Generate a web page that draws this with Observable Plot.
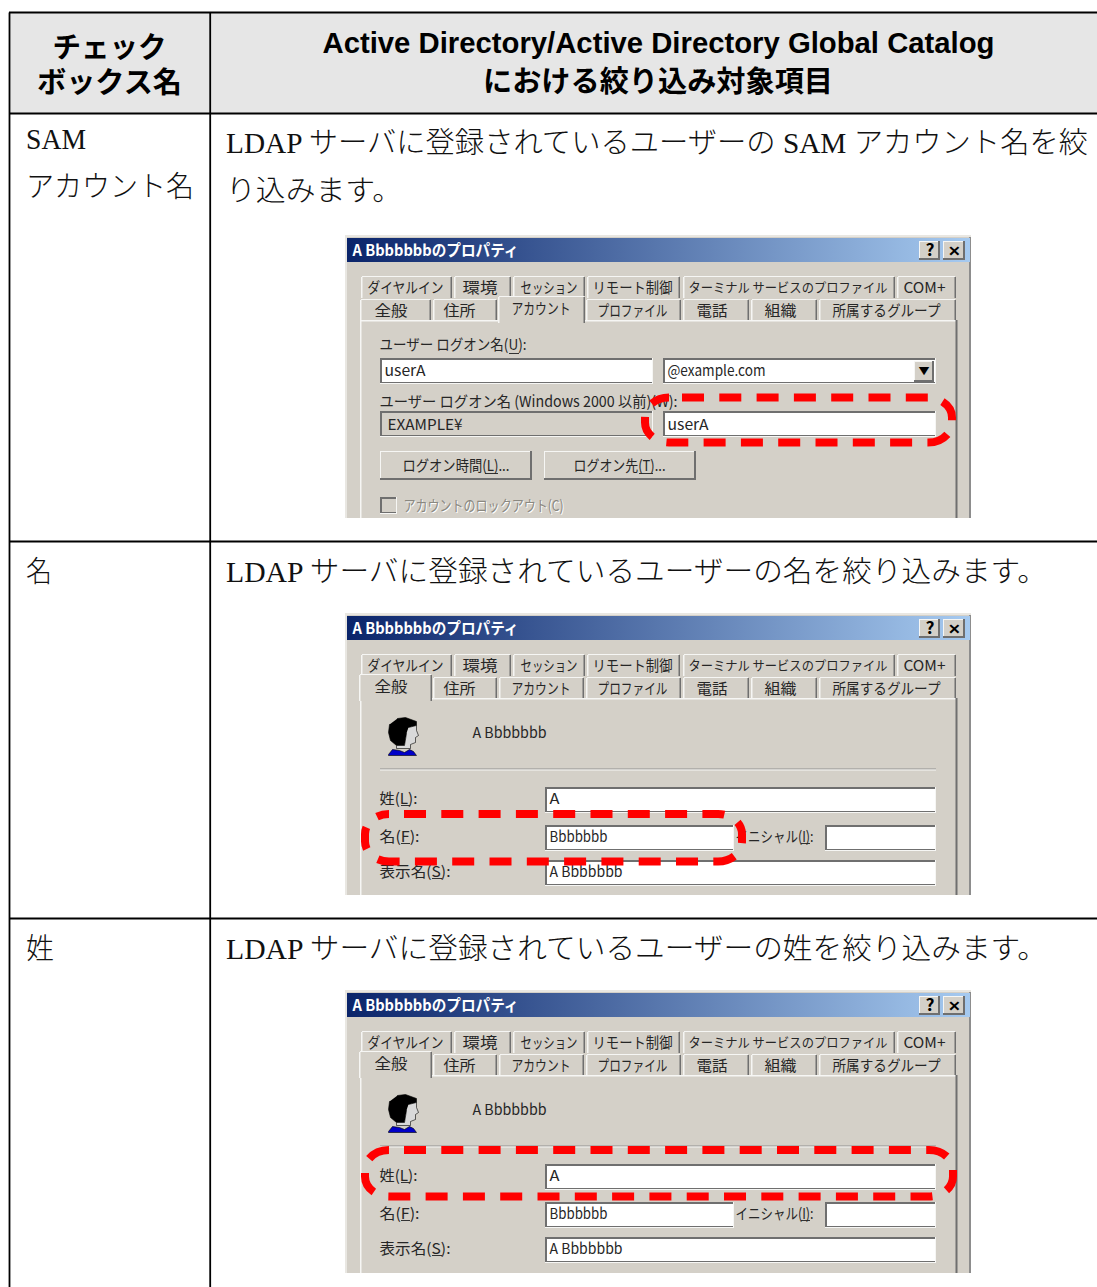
<!DOCTYPE html>
<html lang="ja">
<head>
<meta charset="utf-8">
<style>html,body{margin:0;padding:0;background:#fff}svg{display:block}</style>
<script src="https://cdn.jsdelivr.net/npm/d3@7"></script>
<script src="https://cdn.jsdelivr.net/npm/@observablehq/plot@0.6"></script>
</head>
<body>
<div id="chart"></div>
<script>
// ---------- content ----------
const headerFirst = ["チェック", "ボックス名"];
const headerSecond = ["Active Directory/Active Directory Global Catalog", "における絞り込み対象項目"];
const rowNames = [["SAM", "アカウント名"], ["名"], ["姓"]];
const rowTexts = [
  ["LDAP サーバに登録されているユーザーの SAM アカウント名を絞", "り込みます。"],
  ["LDAP サーバに登録されているユーザーの名を絞り込みます。"],
  ["LDAP サーバに登録されているユーザーの姓を絞り込みます。"]
];
const dialogTitle = "A Bbbbbbbのプロパティ";
const tabsBack = ["ダイヤルイン", "環境", "セッション", "リモート制御", "ターミナル サービスのプロファイル", "COM+"];
const tabsFront = ["全般", "住所", "アカウント", "プロファイル", "電話", "組織", "所属するグループ"];
const accountLabels = ["ユーザー ログオン名(U):", "ユーザー ログオン名 (Windows 2000 以前)(W):"];
const accountValues = ["userA", "@example.com", "EXAMPLE¥", "userA"];
const accountButtons = ["ログオン時間(L)...", "ログオン先(T)..."];
const lockoutLabel = "アカウントのロックアウト(C)";
const generalName = "A Bbbbbbb";
const generalLabels = ["姓(L):", "名(F):", "イニシャル(I):", "表示名(S):"];
const generalValues = ["A", "Bbbbbbb", "A Bbbbbbb"];

// ---------- layout ----------
const W = 1097, H = 1287;
const GRAY = "#d4d0c8", DARK = "#6f6f6f", LIGHT = "#f6f6f4", INK = "#262626";
const dialogTops = [235, 613, 990];
const dialogBottoms = [518, 895, 1273];
const activeTab = [2, 0, 0];
const highlight = [
  {x1: 645, x2: 952, y1: 397.5, y2: 442.5, off: 24.3},
  {x1: 365, x2: 742, y1: 814, y2: 861.5, off: 22.3},
  {x1: 365, x2: 953, y1: 1150, y2: 1196.5, off: 22.3}
];
const backEdges = [[361, 452], [454, 511], [513, 585], [587, 680], [683, 895], [897, 956]];
const frontEdges = [[360, 431], [433, 497], [499, 584], [586, 681], [683, 749], [751, 817], [819, 956]];
const backSpans = [[367, 76], [462, 35], [520, 57], [592, 80], [688, 199], [903, 42]];
const frontSpans = [[374, 33], [443, 32], [511, 59], [597, 70], [696, 31], [764, 32], [832, 108]];

const rects = [], texts = [], polys = [];
const R = (x1, y1, x2, y2, fill) => rects.push({x1, y1, x2, y2, fill});
const T = (t, x, y, len, size = 15, fill = INK, weight = 400) => texts.push({t, x, y: y + 0.7, len, size, fill, weight});
const U = (x1, x2, y) => R(x1, y, x2, y + 1, "#333");

function sunken(x1, y1, x2, y2, fill = "#fff") {
  R(x1, y1, x2, y2, LIGHT);
  R(x1, y1, x2 - 1, y2 - 1, DARK);
  R(x1 + 2, y1 + 2, x2 - 1, y2 - 2, fill);
}
function raised(x1, y1, x2, y2) {
  R(x1, y1, x2, y2, DARK);
  R(x1, y1, x2 - 2, y2 - 2, LIGHT);
  R(x1 + 1, y1 + 1, x2 - 2, y2 - 2, GRAY);
}
function tab(a, b, top, bottom) {
  R(a, top, b, bottom, GRAY);
  R(a + 1, top, b - 1, top + 1, LIGHT);
  R(a, top + 1, a + 1.5, bottom, LIGHT);
  R(b - 1.5, top + 1, b, bottom, DARK);
}

dialogTops.forEach((top, k) => {
  const d = y => top + y - 235;            // every dialog shares the same frame
  const bottom = dialogBottoms[k];
  R(345, top, 971, bottom, "#e9e7e2");
  R(347, top + 2, 969, bottom, GRAY);
  R(969, top + 2, 971, bottom, "#8d8d8d");
  R(347, d(238), 970, d(262), "url(#titleGrad)");
  T(dialogTitle, 352, d(249.5), 166, 16, "#fff", 700);
  raised(919, d(241), 940, d(260));
  raised(943, d(241), 965, d(260));
  T("?", 925, d(250), 9, 16, "#000", 700);
  T("✕", 947, d(250), 13, 14, "#000", 700);
  // back tab row, front tab row, page
  backEdges.forEach(([a, b]) => tab(a, b, d(276), d(298)));
  backSpans.forEach(([x, len], i) => T(tabsBack[i], x, d(287), len, i === 4 ? 13 : 15));
  frontEdges.forEach(([a, b]) => tab(a, b, d(299), d(322)));
  R(360, d(320), 957, bottom, GRAY);
  R(360, d(320), 957, d(321.5), LIGHT);
  R(360, d(320), 361.5, bottom, LIGHT);
  R(955.5, d(320), 957.5, bottom, DARK);
  const [a, b] = frontEdges[activeTab[k]];
  tab(a - 1, b + 1, d(296), d(323));
  frontSpans.forEach(([x, len], i) => T(tabsFront[i], x, d(i === activeTab[k] ? 308 : 310), len));
  if (k === 0) {
    T(accountLabels[0], 379, 344, 147); U(509, 519, 353);
    sunken(380, 358, 653, 384); T(accountValues[0], 384, 370, 41);
    sunken(663, 358, 936, 384); T(accountValues[1], 667, 370, 98);
    raised(914, 361, 934, 382);
    T("▼", 918, 371, 11, 10, "#000");
    T(accountLabels[1], 379, 401, 298);
    sunken(380, 411, 653, 437, GRAY); T(accountValues[2], 387, 424, 75);
    sunken(663, 411, 936, 437); T(accountValues[3], 667, 424, 41);
    raised(380, 451, 532, 480); T(accountButtons[0], 402, 465, 107); U(485, 498, 473);
    raised(544, 451, 696, 480); T(accountButtons[1], 573, 465, 92); U(639, 653, 473);
    sunken(380, 497, 397, 514, GRAY);
    T(lockoutLabel, 404, 506, 160, 15, "#fff");
    T(lockoutLabel, 403, 505, 160, 15, "#8a8880");
  } else {
    T(generalName, 472, d(354), 74);
    polys.push(...["#000", "#d9d9d9", "#0000c8"].map((fill, i) => ({fill, pts: [
      [[397, 718], [405, 717], [416, 721], [416, 725], [408, 727], [406, 733], [404, 745], [396, 745], [390, 740], [388, 732], [389, 724]],
      [[408, 727], [416, 725], [416, 730], [418, 735], [415, 737], [415, 742], [410, 744], [410, 748], [396, 748], [396, 745], [404, 745], [406, 733]],
      [[388, 754], [392, 749], [399, 750], [404, 752], [409, 749], [413, 751], [416, 755], [388, 755]]
    ][i].map(([x, y]) => ({x, y: y - 613 + top}))})));
    R(380, d(390.5), 936, d(391.5), "#8f8f8f");
    R(380, d(391.5), 936, d(392.5), LIGHT);
    T(generalLabels[0], 379, d(420), 38); U(401, 410, d(427));
    sunken(545, d(409), 936, d(435)); T(generalValues[0], 549, d(420), 10);
    T(generalLabels[1], 379, d(458), 40); U(401, 410, d(465));
    sunken(545, d(447), 734, d(473)); T(generalValues[1], 549, d(458), 58);
    T(generalLabels[2], 735, d(458), 78); U(801, 810, d(465));
    sunken(825, d(447), 936, d(473));
    T(generalLabels[3], 379, d(493), 71); U(432, 442, d(500));
    sunken(545, d(482), 936, d(508)); T(generalValues[2], 549, d(493), 73);
  }
});

const frameRules = [
  {x1: 8.5, x2: W, y1: 12, y2: 12}, {x1: 8.5, x2: W, y1: 113, y2: 113},
  {x1: 8.5, x2: W, y1: 541, y2: 541}, {x1: 8.5, x2: W, y1: 918, y2: 918},
  {x1: 9, x2: 9, y1: 12, y2: H}, {x1: 209.7, x2: 209.7, y1: 12, y2: H}
];
const headItems = [
  {t: headerFirst[0], x: 109, y: 48, len: 114}, {t: headerFirst[1], x: 109, y: 83, len: 145},
  {t: headerSecond[0], x: 658, y: 43, len: 672}, {t: headerSecond[1], x: 657.5, y: 82, len: 350}
];
const rowY = [[139.5, 187], [572], [949]];
const textY = [[143.5, 191], [572], [949]];
const nameLen = [[60, 168], [26], [28]];
const textLen = [[862, 176], [821], [821]];
const bodyItems = [];
rowNames.forEach((lines, i) => lines.forEach((t, j) => bodyItems.push({t, x: 25.5, y: rowY[i][j], len: nameLen[i][j]})));
rowTexts.forEach((lines, i) => lines.forEach((t, j) => bodyItems.push({t, x: 225.5, y: textY[i][j], len: textLen[i][j]})));

function fitted(data, options) {
  return Plot.text(data, {
    x: "x", y: "y", text: "t", lineAnchor: "middle", ...options,
    render(index, scales, values, dim, ctx, next) {
      const g = next(index, scales, values, dim, ctx);
      const nodes = g.querySelectorAll("text");
      Array.from(index).forEach((i, n) => {
        if (data[i].len && nodes[n]) {
          nodes[n].setAttribute("textLength", data[i].len);
          nodes[n].setAttribute("lengthAdjust", "spacingAndGlyphs");
        }
      });
      return g;
    }
  });
}

const gradientDefs = () => {
  const ns = "http://www.w3.org/2000/svg";
  const defs = document.createElementNS(ns, "defs");
  const g = document.createElementNS(ns, "linearGradient");
  g.setAttribute("id", "titleGrad");
  [["0%", "#0a246a"], ["100%", "#a6caf0"]].forEach(([o, c]) => {
    const s = document.createElementNS(ns, "stop");
    s.setAttribute("offset", o); s.setAttribute("stop-color", c);
    g.appendChild(s);
  });
  defs.appendChild(g);
  return defs;
};

const UI_FONT = "'Noto Sans CJK JP','Liberation Sans',sans-serif";
const chart = Plot.plot({
  width: W, height: H, margin: 0,
  x: {domain: [0, W], range: [0, W], axis: null},
  y: {domain: [0, H], range: [0, H], axis: null},
  color: {type: "identity"},
  style: {background: "#fff"},
  marks: [
    gradientDefs,
    Plot.rect([{x1: 9, x2: W, y1: 12, y2: 113}], {x1: "x1", x2: "x2", y1: "y1", y2: "y2", fill: "#e6e6e6"}),
    Plot.rect(rects, {x1: "x1", x2: "x2", y1: "y1", y2: "y2", fill: "fill"}),
    ...polys.map(p => Plot.line(p.pts, {x: "x", y: "y", fill: p.fill, stroke: "#000", strokeWidth: 0.6})),
    fitted(texts.filter(d => d.weight === 400), {textAnchor: "start", fontSize: d => d.size, fill: "fill", fontFamily: UI_FONT}),
    fitted(texts.filter(d => d.weight === 700), {textAnchor: "start", fontSize: d => d.size, fill: "fill", fontWeight: 700, fontFamily: UI_FONT}),
    ...highlight.map(h => Plot.rect([h], {x1: "x1", x2: "x2", y1: "y1", y2: "y2", rx: 24, ry: 20, fill: "none",
      stroke: "#ff0000", strokeWidth: 8, strokeDasharray: "22,15.3", strokeDashoffset: h.off})),
    Plot.link(frameRules, {x1: "x1", x2: "x2", y1: "y1", y2: "y2", stroke: "#000", strokeWidth: 1.8}),
    fitted(headItems, {textAnchor: "middle", fontSize: 29, fontWeight: 700, fill: "#000",
      fontFamily: "'Liberation Sans','Noto Sans CJK JP',sans-serif"}),
    fitted(bodyItems, {textAnchor: "start", fontSize: 29, fill: "#111", fontWeight: 300,
      fontFamily: "'Liberation Serif','Noto Sans CJK JP',serif"})
  ]
});
document.getElementById("chart").appendChild(chart);
</script>
</body>
</html>
